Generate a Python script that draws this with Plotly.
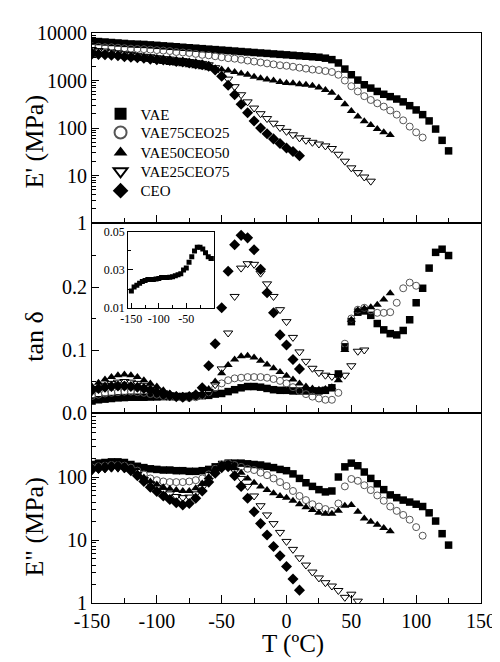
import plotly.graph_objects as go

# temperature grid (ºC), every series starts at -150 and stops where its data ends
T = [-150, -145, -140, -135, -130, -125, -120, -115, -110, -105, -100, -95, -90, -85, -80, -75,
     -70, -65, -60, -55, -50, -45, -40, -35, -30, -25, -20, -15, -10, -5, 0, 5, 10, 15, 20, 25,
     30, 35, 40, 45, 50, 55, 60, 65, 70, 75, 80, 85, 90, 95, 100, 105, 110, 115, 120, 125]

names = ["VAE", "VAE75CEO25", "VAE50CEO50", "VAE25CEO75", "CEO"]

# storage modulus E' (MPa)
e1_vae = [6760, 6610, 6460, 6310, 6170, 6030, 5890, 5820, 5750, 5620, 5500, 5370, 5250, 5130, 5010,
          4900, 4790, 4680, 4570, 4470, 4370, 4270, 4170, 4070, 3980, 3890, 3800, 3720, 3630, 3550,
          3470, 3390, 3310, 3240, 3160, 3090, 2950, 2750, 2340, 1740, 1320, 1020, 813, 692, 589, 513,
          457, 407, 355, 295, 240, 191, 141, 95, 55, 33]
e1_v75 = [5250, 5130, 5010, 5010, 4900, 4790, 4680, 4620, 4570, 4470, 4370, 4270, 4170, 3980, 3890,
          3800, 3630, 3470, 3390, 3240, 3090, 2950, 2880, 2750, 2630, 2510, 2400, 2290, 2190, 2090,
          2040, 1950, 1860, 1780, 1700, 1660, 1580, 1510, 1320, 1000, 759, 589, 468, 389, 331, 282,
          234, 191, 145, 107, 81, 63]
e1_v50 = [4070, 3890, 3720, 3550, 3390, 3240, 3090, 2950, 2820, 2690, 2570, 2450, 2340, 2290, 2190,
          2090, 2000, 1910, 1820, 1780, 1700, 1620, 1510, 1410, 1320, 1200, 1120, 1050, 1000, 933,
          891, 871, 832, 813, 776, 708, 631, 550, 427, 316, 229, 174, 138, 115, 95, 81, 71]
e1_v25 = [4470, 4270, 4170, 3980, 3800, 3630, 3550, 3390, 3240, 3160, 3020, 2880, 2820, 2690, 2630,
          2510, 2400, 2290, 2140, 1860, 1480, 1070, 741, 501, 355, 263, 200, 158, 126, 102,
          85, 72, 62, 55, 50, 46, 42, 37, 28, 20, 14.5, 11.5, 9.3, 7.6]
e1_ceo = [3630, 3550, 3470, 3390, 3310, 3160, 3090, 3020, 2950, 2820, 2750, 2690, 2630, 2510, 2450,
          2340, 2240, 2140, 2000, 1660, 1230, 794, 501, 316, 209, 141, 100, 76, 59, 47, 38, 32, 26]

# tan delta
td_vae = [0.019, 0.021, 0.022, 0.023, 0.024, 0.0245, 0.025, 0.025, 0.025, 0.0253, 0.0255, 0.026,
          0.026, 0.026, 0.0262, 0.0265, 0.027, 0.0275, 0.028, 0.030, 0.031, 0.034, 0.037, 0.040,
          0.042, 0.042, 0.041, 0.039, 0.037, 0.036, 0.036, 0.035, 0.035, 0.035, 0.035, 0.035,
          0.036, 0.040, 0.062, 0.105, 0.145, 0.160, 0.162, 0.155, 0.142, 0.132, 0.126, 0.124,
          0.131, 0.148, 0.175, 0.198, 0.230, 0.255, 0.260, 0.250]
td_v75 = [0.027, 0.029, 0.031, 0.032, 0.033, 0.034, 0.034, 0.033, 0.032, 0.030, 0.029, 0.027,
          0.026, 0.025, 0.024, 0.024, 0.025, 0.028, 0.033, 0.040, 0.047, 0.052, 0.055, 0.056,
          0.057, 0.057, 0.057, 0.056, 0.054, 0.051, 0.047, 0.041, 0.035, 0.030, 0.026, 0.023,
          0.021, 0.021, 0.032, 0.110, 0.150, 0.164, 0.167, 0.163, 0.159, 0.159, 0.160, 0.175,
          0.198, 0.207, 0.202]
td_v50 = [0.042, 0.048, 0.053, 0.057, 0.060, 0.061, 0.060, 0.057, 0.052, 0.047, 0.042, 0.036,
          0.031, 0.028, 0.027, 0.027, 0.028, 0.031, 0.038, 0.050, 0.063, 0.076, 0.085, 0.090,
          0.091, 0.088, 0.083, 0.077, 0.071, 0.065, 0.059, 0.053, 0.047, 0.042, 0.039, 0.037,
          0.038, 0.041, 0.052, 0.100, 0.148, 0.163, 0.166, 0.168, 0.172, 0.180, 0.190]
td_v25 = [0.034, 0.039, 0.044, 0.047, 0.049, 0.050, 0.049, 0.047, 0.044, 0.040, 0.036, 0.032,
          0.029, 0.027, 0.026, 0.026, 0.027, 0.029, 0.034, 0.045, 0.070, 0.127, 0.185, 0.230,
          0.237, 0.236, 0.222, 0.205, 0.185, 0.164, 0.145, 0.120, 0.097, 0.082, 0.071, 0.064,
          0.060, 0.058, 0.058, 0.060, 0.075, 0.098, 0.100]
td_ceo = [0.037, 0.039, 0.041, 0.042, 0.043, 0.043, 0.042, 0.041, 0.039, 0.036, 0.033, 0.030,
          0.028, 0.026, 0.025, 0.026, 0.029, 0.040, 0.075, 0.110, 0.167, 0.225, 0.267, 0.282,
          0.278, 0.259, 0.228, 0.191, 0.159, 0.124, 0.108, 0.085, 0.070]

# loss modulus E'' (MPa)
e2_vae = [158, 166, 170, 174, 174, 170, 158, 148, 141, 135, 132, 129, 129, 126, 126, 123, 123, 126,
          132, 145, 158, 166, 166, 166, 162, 158, 155, 148, 141, 132, 126, 112, 95, 81, 71, 63, 58,
          60, 100, 145, 166, 151, 120, 95, 78, 63, 52, 47, 43, 40, 37, 34, 27, 20, 12.6, 8.3]
e2_v75 = [141, 148, 151, 155, 155, 151, 141, 126, 110, 95, 89, 85, 83, 83, 83, 85, 89, 95, 110, 135,
          158, 166, 155, 145, 135, 129, 117, 107, 95, 83, 72, 60, 50, 43, 37, 34, 31, 29, 38, 71,
          93, 87, 74, 62, 51, 42, 34, 29, 25, 21, 16, 11.7]
e2_v50 = [141, 148, 151, 151, 151, 145, 132, 115, 98, 85, 76, 69, 65, 62, 60, 60, 66, 79, 100, 132,
          158, 158, 138, 117, 95, 81, 71, 62, 55, 50, 47, 42, 37, 33, 30, 27, 26, 26, 29, 35, 36,
          28, 22, 19.5, 17.4, 15.5, 13.8]
e2_v25 = [126, 132, 135, 138, 138, 135, 126, 110, 91, 78, 68, 59, 54, 49, 47, 48, 54, 68, 89, 120,
          151, 158, 126, 95, 71, 50, 35, 25, 18.2, 13.2, 9.5, 7.1, 5.2, 4.0, 3.1, 2.5, 2.1, 1.86,
          1.58, 1.23, 1.38, 1.07]
e2_ceo = [132, 138, 141, 145, 148, 141, 126, 105, 85, 69, 59, 50, 44, 39, 36, 38, 46, 60, 83, 115,
          141, 145, 105, 71, 46, 28, 18.2, 12.0, 7.9, 5.6, 3.8, 2.4, 1.6]

x_ticks = [-150, -100, -50, 0, 50, 100, 150]
x_ticktext = ["-150", "-100", "-50", "0", "50", "100", "150"]

marks = [
    dict(symbol="square", size=7.5, color="black", line=dict(width=0)),
    dict(symbol="circle-open", size=7, color="#555555", line=dict(width=1)),
    dict(symbol="triangle-up", size=8, color="black", line=dict(width=0)),
    dict(symbol="triangle-down-open", size=8, color="black", line=dict(width=1)),
    dict(symbol="diamond", size=8.5, color="black", line=dict(width=0)),
]
legend_ids = ["legend", "legend2", "legend3", "legend4", "legend5"]

panels = [
    ("x3", "y3", [e1_vae, e1_v75, e1_v50, e1_v25, e1_ceo], True),
    ("x2", "y2", [td_vae, td_v75, td_v50, td_v25, td_ceo], False),
    ("x", "y", [e2_vae, e2_v75, e2_v50, e2_v25, e2_ceo], False),
]

fig = go.Figure()
for xa, ya, series, leg in panels:
    for name, vals, mk, lid in zip(names, series, marks, legend_ids):
        fig.add_trace(go.Scatter(x=T[:len(vals)], y=vals, mode="markers", name=name,
                                 marker=mk, showlegend=leg, legend=lid, xaxis=xa, yaxis=ya))

# inset: VAE tan delta at low temperature
fig.add_trace(go.Scatter(x=T[:len(td_vae)], y=td_vae, mode="markers", showlegend=False,
                         marker=dict(symbol="square", size=5, color="black"),
                         xaxis="x4", yaxis="y4"))

font = "Times New Roman"
base_x = dict(range=[-150, 150], showline=True, linecolor="black", linewidth=1, mirror=True,
              ticks="inside", ticklen=8, tickcolor="black", tickvals=x_ticks, ticktext=x_ticktext,
              minor=dict(ticks="inside", ticklen=5, dtick=25, tick0=-150, tickcolor="black"),
              showgrid=False, zeroline=False)
log_minor = [m * 10 ** k for k in range(0, 4) for m in range(2, 10)]
base_y = dict(showline=True, linecolor="black", linewidth=1, mirror=True, ticks="inside",
              ticklen=7, tickcolor="black", showgrid=False, zeroline=False)

fig.update_layout(
    width=500, height=662,
    margin=dict(l=84, r=17, t=25, b=67),
    paper_bgcolor="white", plot_bgcolor="white",
    font=dict(family=font, size=20, color="black"),
    xaxis=dict(base_x, anchor="y", showticklabels=True),
    xaxis2=dict(base_x, anchor="y2", matches="x", showticklabels=False),
    xaxis3=dict(base_x, anchor="y3", matches="x", showticklabels=False),
    yaxis=dict(base_y, domain=[0, 1 / 3], type="log", range=[0, 3.016],
               tickvals=[1, 10, 100], ticktext=["1", "10", "100"],
               minor=dict(ticks="inside", ticklen=4, tickvals=log_minor, tickcolor="black")),
    yaxis2=dict(base_y, domain=[1 / 3, 2 / 3], range=[0, 0.3016],
                tickvals=[0, 0.1, 0.2], ticktext=["0.0", "0.1", "0.2"],
                minor=dict(ticks="inside", ticklen=4, tickvals=[0.05, 0.15, 0.25], tickcolor="black")),
    yaxis3=dict(base_y, domain=[2 / 3, 1], type="log", range=[0, 4],
                tickvals=[1, 10, 100, 1000, 10000],
                ticktext=["1", "10", "100", "1000", "10000"],
                minor=dict(ticks="inside", ticklen=4, tickvals=log_minor, tickcolor="black")),
    xaxis4=dict(domain=[0.0927, 0.313], anchor="y4", range=[-156, 0], showline=True,
                linecolor="black", mirror=True, ticks="inside", ticklen=5, tickcolor="black",
                tickvals=[-150, -100, -50], ticktext=["-150", "-100", "-50"],
                minor=dict(ticks="inside", ticklen=3, tickvals=[-125, -75, -25], tickcolor="black"),
                tickfont=dict(size=12), showgrid=False, zeroline=False),
    yaxis4=dict(domain=[0.5175, 0.651], anchor="x4", range=[0.01, 0.05], showline=True,
                linecolor="black", mirror=True, ticks="inside", ticklen=5, tickcolor="black",
                tickvals=[0.01, 0.03, 0.05], ticktext=["0.01", "0.03", "0.05"],
                minor=dict(ticks="inside", ticklen=3, tickvals=[0.02, 0.04], tickcolor="black"),
                tickfont=dict(size=12), showgrid=False, zeroline=False),
    showlegend=True,
)

# one small legend per entry so the rows sit as tightly as in the original
legend_y = [0.858, 0.825, 0.790, 0.757, 0.723]
for lid, ly in zip(legend_ids, legend_y):
    fig.update_layout({lid: dict(x=0.022, y=ly, xanchor="left", yanchor="middle",
                                 bgcolor="rgba(0,0,0,0)", font=dict(size=15),
                                 itemsizing="constant")})

titles = [("E' (MPa)", 0.8105), ("tan δ", 0.468), ('E" (MPa)', 0.133)]
for txt, yy in titles:
    fig.add_annotation(text=txt, xref="paper", yref="paper", x=-0.148, y=yy, showarrow=False,
                       textangle=-90, font=dict(size=26), xanchor="center", yanchor="middle")
fig.add_annotation(text="T (ºC)", xref="paper", yref="paper", x=0.516, y=-0.072, showarrow=False,
                   font=dict(size=25), xanchor="center", yanchor="middle")

fig.write_html("out.html")
